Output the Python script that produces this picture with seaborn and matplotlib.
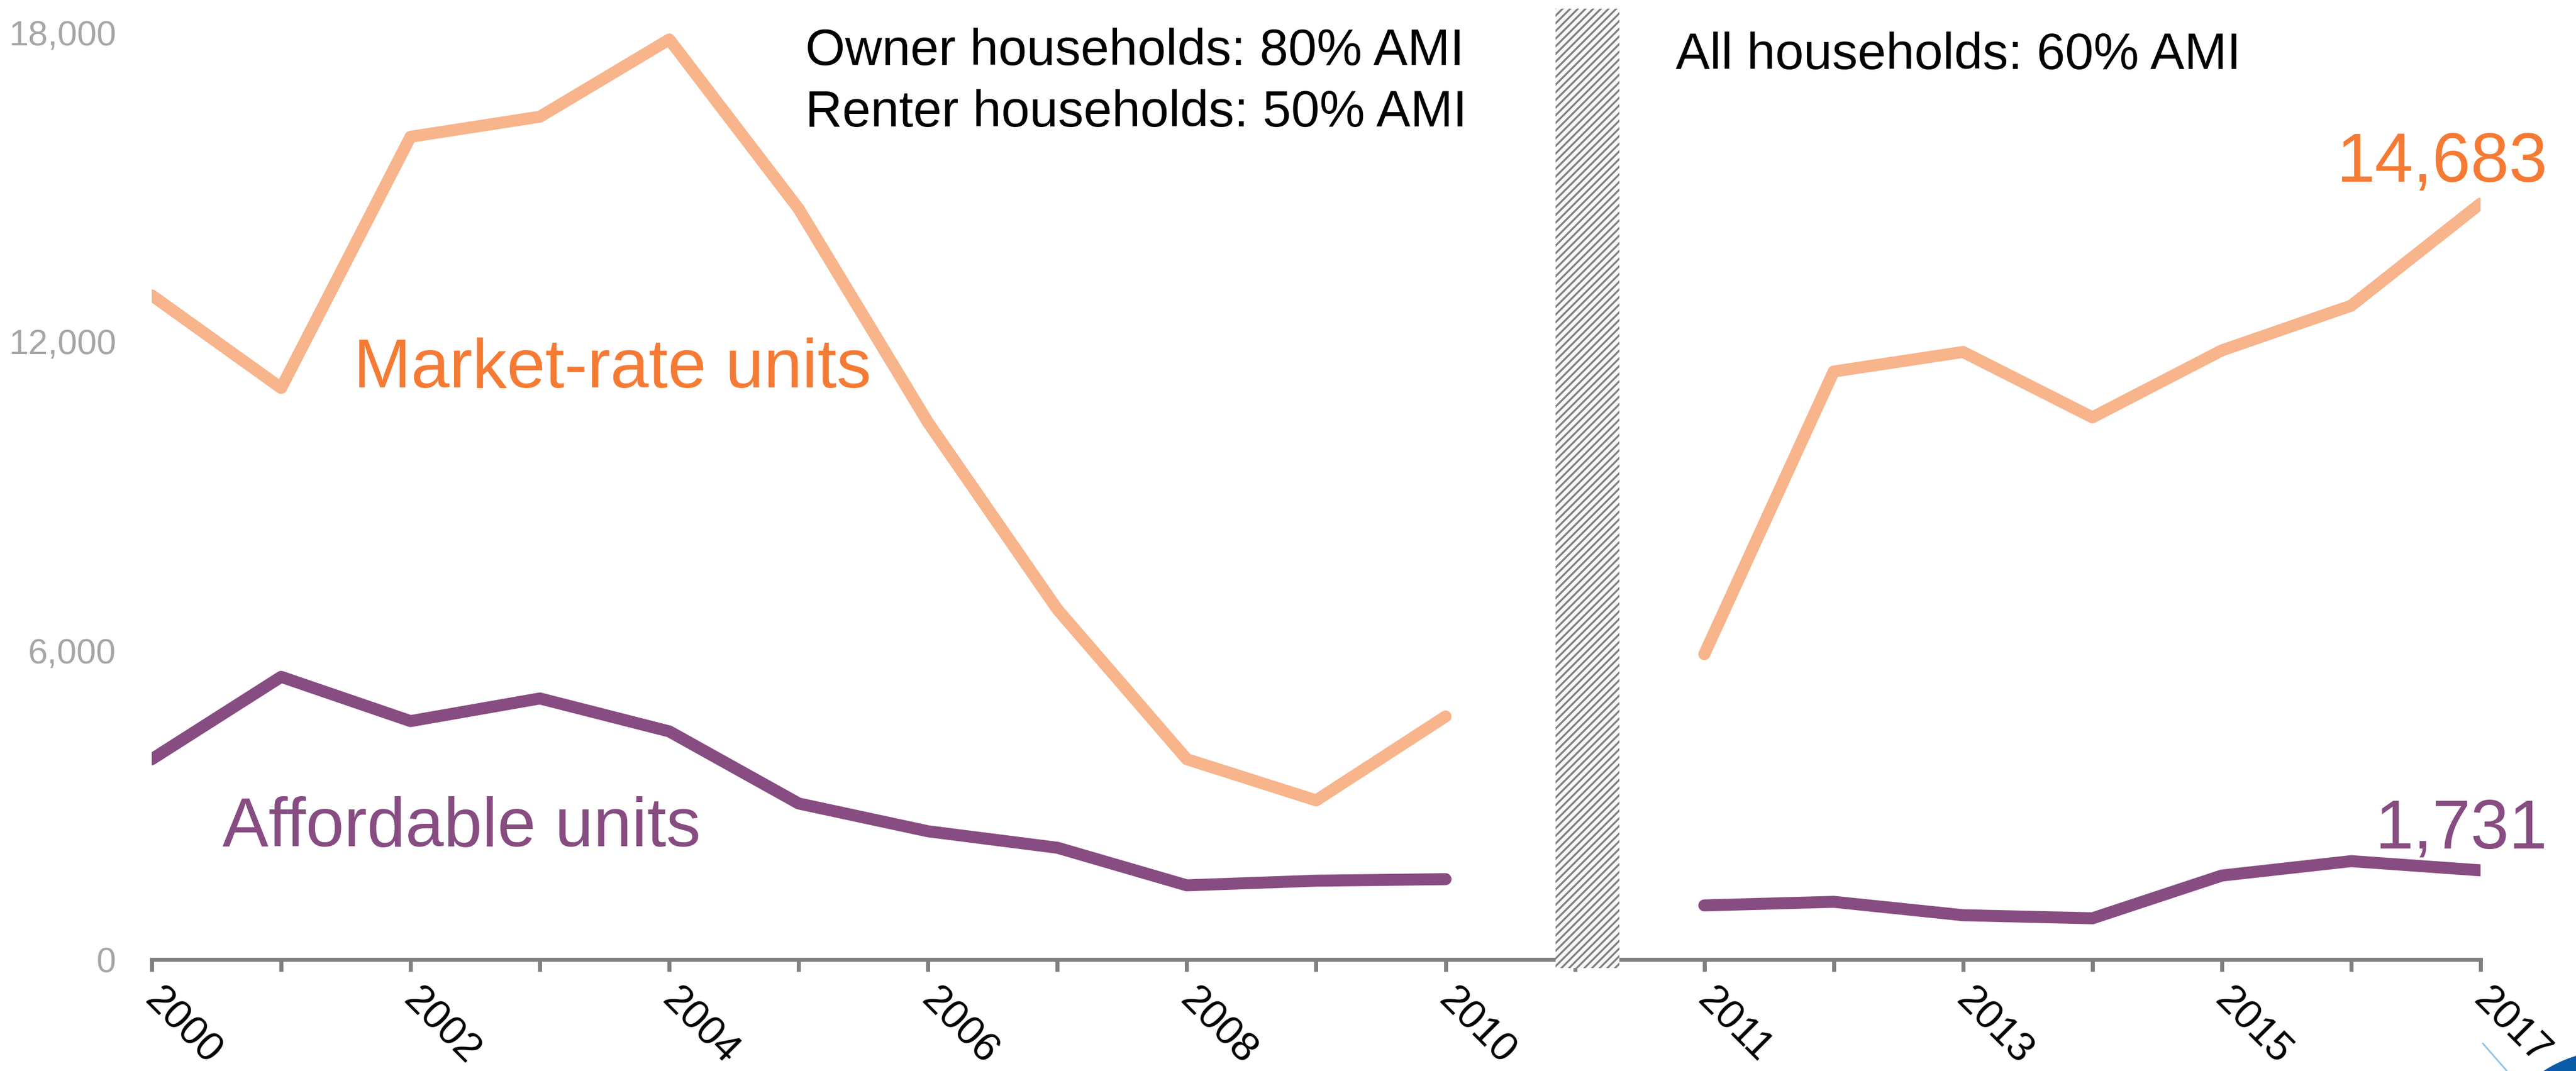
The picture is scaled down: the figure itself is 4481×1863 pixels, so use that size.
import matplotlib
matplotlib.use("Agg")
import matplotlib.pyplot as plt
import matplotlib.transforms as mtransforms
from matplotlib.patches import Rectangle, Ellipse
from matplotlib.lines import Line2D
from matplotlib.ticker import FuncFormatter
import seaborn as sns
import pandas as pd

# ---- data -------------------------------------------------------------
years = [2000, 2001, 2002, 2003, 2004, 2005, 2006, 2007, 2008, 2009, 2010,
         2011, 2012, 2013, 2014, 2015, 2016, 2017]
market_rate = [12900, 11100, 15980, 16370, 17870, 14580, 10430, 6800, 3890,
               3090, 4720, 5930, 11420, 11800, 10530, 11830, 12700, 14683]
affordable = [3890, 5490, 4630, 5070, 4430, 3030, 2490, 2170, 1440, 1530,
              1560, 1050, 1120, 860, 800, 1630, 1910, 1731]
tick_years = [2000, 2002, 2004, 2006, 2008, 2010, 2011, 2013, 2015, 2017]
y_ticks = [0, 6000, 12000, 18000]
break_year = 2010  # AMI definition changes after this year

# ---- styling ----------------------------------------------------------
sns.set_theme(style="white")
plt.rcParams["font.family"] = ["Liberation Sans", "DejaVu Sans"]
plt.rcParams["hatch.linewidth"] = 1.2

MARKET_LINE = "#F8B48B"
MARKET_TEXT = "#F57B35"
AFFORD = "#874C82"
AXIS_GREY = "#808080"

DPI = 200
fig = plt.figure(figsize=(4481 / DPI, 1863 / DPI), dpi=DPI)
ax = fig.add_axes([0.058915, 0.104133, 0.90404, 0.865271])


def position(year):
    # one empty slot is left between the two periods
    return year - 2000 if year <= break_year else year - 1999


df = pd.DataFrame({"year": years, "Market-rate units": market_rate,
                   "Affordable units": affordable})
df["pos"] = df["year"].map(position)
df["period"] = (df["year"] > break_year).map({False: "early", True: "late"})

line_kw = dict(linewidth=7.5, solid_capstyle="round", solid_joinstyle="round")
for _, seg in df.groupby("period"):
    sns.lineplot(data=seg, x="pos", y="Market-rate units", color=MARKET_LINE,
                 ax=ax, **line_kw)
    sns.lineplot(data=seg, x="pos", y="Affordable units", color=AFFORD,
                 ax=ax, **line_kw)

ax.set_xlim(0, 18)
ax.set_ylim(0, 18000)
ax.set_xlabel("")
ax.set_ylabel("")

# hatched band marking the break between the two series definitions
gap_left, gap_right = 10.85, 11.344
ax.add_patch(Rectangle((gap_left, -170), gap_right - gap_left, 18640,
                       facecolor="#F8F8F8", edgecolor=AXIS_GREY,
                       hatch="/////", linewidth=0, clip_on=False, zorder=5))

# ---- axes -------------------------------------------------------------
for side in ("left", "right", "top"):
    ax.spines[side].set_visible(False)
ax.spines["bottom"].set_color(AXIS_GREY)
ax.spines["bottom"].set_linewidth(2.5)

ax.set_xticks(range(19))
pos_labels = {position(y): str(y) for y in tick_years}
ax.set_xticklabels([pos_labels.get(i, "") for i in range(19)],
                   rotation=-45, ha="left", va="baseline",
                   rotation_mode="anchor", fontsize=25.5, color="black")
ax.tick_params(axis="x", bottom=True, direction="out", length=7.6,
               width=2.5, color=AXIS_GREY, pad=19)
shift = mtransforms.ScaledTranslation(-15 / DPI, 0, fig.dpi_scale_trans)
for lab in ax.get_xticklabels():
    lab.set_transform(lab.get_transform() + shift)

ax.set_yticks(y_ticks)
ax.yaxis.set_major_formatter(FuncFormatter(lambda v, _: f"{int(v):,}"))
ax.tick_params(axis="y", left=False, length=0, pad=22.3,
               labelcolor="#A6A6A6", labelsize=22)
ax.grid(False)

# ---- annotations ------------------------------------------------------
ax.text(1.56, 11110, "Market-rate units", color=MARKET_TEXT, fontsize=43.2,
        ha="left", va="baseline")
ax.text(0.545, 2200, "Affordable units", color=AFFORD, fontsize=43.2,
        ha="left", va="baseline")
ax.text(18.52, 15119, f"{market_rate[-1]:,}", color=MARKET_TEXT,
        fontsize=43.2, ha="right", va="baseline", clip_on=False)
ax.text(18.52, 2166, f"{affordable[-1]:,}", color=AFFORD,
        fontsize=43.2, ha="right", va="baseline", clip_on=False)

ax.text(5.05, 17374, "Owner households: 80% AMI", color="black",
        fontsize=32, ha="left", va="baseline", clip_on=False)
ax.text(5.05, 16179, "Renter households: 50% AMI", color="black",
        fontsize=32, ha="left", va="baseline", clip_on=False)
ax.text(11.78, 17296, "All households: 60% AMI", color="black",
        fontsize=32, ha="left", va="baseline", clip_on=False)

# corner of the publisher logo
fig.add_artist(Ellipse((0.9985, -0.004), 0.022, 0.05, angle=-35,
                       transform=fig.transFigure, color="#0A5CA8"))
fig.add_artist(Line2D([0.9638, 0.9732], [0.0258, 0.0],
                      transform=fig.transFigure, color="#8DC3E8",
                      linewidth=1.0))

fig.savefig("out.png", dpi=DPI)
